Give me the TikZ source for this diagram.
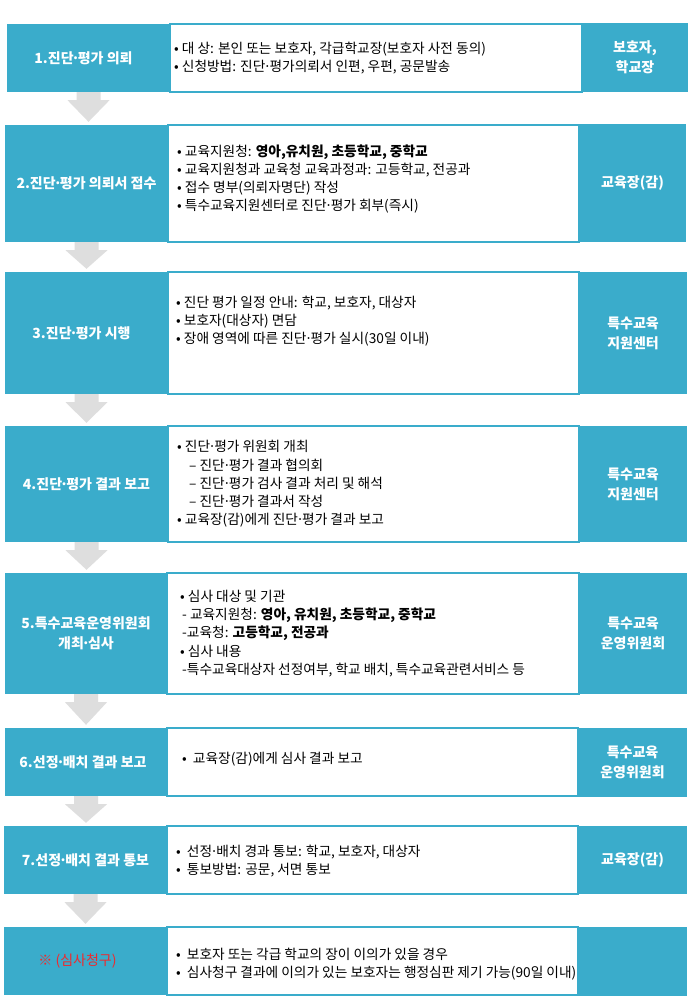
\documentclass[tikz,border=0pt]{standalone}
\usepackage{fontspec}
\setmainfont{Noto Sans CJK KR}
\usetikzlibrary{calc}
\definecolor{tb}{HTML}{3AACCB}
\definecolor{ag}{HTML}{DEDEDE}
\definecolor{rd}{HTML}{EE2A2E}
\tikzset{
 lbox/.style={fill=tb, inner sep=0pt, text=white, align=center, font=\fontsize{14}{20}\selectfont\bfseries},
 wbox/.style={fill=white, draw=tb, line width=1.2pt, inner sep=0pt},
 rbox/.style={fill=tb, inner sep=0pt, text=white, align=center, font=\fontsize{14}{20}\selectfont\bfseries},
 body/.style={anchor=west, inner sep=0pt, align=left, font=\fontsize{13.7}{18.3}\selectfont},
 barrow/.style={fill=ag},
}
\newcommand\blockarrow[2]{%
 \fill[barrow] ($(#1.south)+(-12pt,0)$) -- ($(#1.south)+(-12pt,-8pt)$) -- ($(#1.south)+(-21pt,-8pt)$)
  -- ($(#1.south |- #2.north)+(0,3pt)$) -- ($(#1.south)+(21pt,-8pt)$) -- ($(#1.south)+(12pt,-8pt)$)
  -- ($(#1.south)+(12pt,0)$) -- cycle;}
\newcommand\bul{\textbullet\ }
\newcommand\md{\makebox[0.3em][c]{·}}
\begin{document}
\begin{tikzpicture}[x=1pt,y=-1pt]
\useasboundingbox[fill=white] (0,0) rectangle (690,1000);
% row 1
\node[wbox, minimum width=412pt, minimum height=68pt] (W1) at (376,58) {};
\node[lbox, minimum width=163pt, minimum height=68pt] (L1) at (88.5,58) {\hspace*{-10pt}1.진단\md 평가 의뢰};
\node[rbox, minimum width=106pt, minimum height=69pt] (R1) at (635,57.5) {보호자,\\학교장};
\node[body] (T1) at (174,58) {\bul 대 상: 본인 또는 보호자, 각급학교장(보호자 사전 동의)\\\bul 신청방법: 진단\md 평가의뢰서 인편, 우편, 공문발송};
% row 2
\node[wbox, minimum width=411pt, minimum height=117pt] (W2) at (373.5,183.5) {};
\node[lbox, minimum width=163pt, minimum height=117pt] (L2) at (86.5,183.5) {2.진단\md 평가 의뢰서 접수};
\node[rbox, minimum width=107pt, minimum height=118pt] (R2) at (632.5,183) {교육장(감)};
\node[body] (T2) at (177,179) {\bul 교육지원청: \textbf{영아,유치원, 초등학교, 중학교}\\\bul 교육지원청과 교육청 교육과정과: 고등학교, 전공과\\\bul 접수 명부(의뢰자명단) 작성\\\bul 특수교육지원센터로 진단\md 평가 회부(즉시)};
% row 3
\node[wbox, minimum width=411pt, minimum height=122pt] (W3) at (373.5,333) {};
\node[lbox, minimum width=163pt, minimum height=122pt] (L3) at (86.5,333) {\hspace*{-10pt}3.진단\md 평가 시행};
\node[rbox, minimum width=108pt, minimum height=122pt] (R3) at (633,333) {특수교육\\지원센터};
\node[body] (T3) at (176,321) {\bul 진단 평가 일정 안내: 학교, 보호자, 대상자\\\bul 보호자(대상자) 면담\\\bul 장애 영역에 따른 진단\md 평가 실시(30일 이내)};
% row 4
\node[wbox, minimum width=411pt, minimum height=116pt] (W4) at (373.5,484) {};
\node[lbox, minimum width=163pt, minimum height=116pt] (L4) at (86.5,484) {4.진단\md 평가 결과 보고};
\node[rbox, minimum width=108pt, minimum height=116pt] (R4) at (633,484) {특수교육\\지원센터};
\node[body] (T4) at (177,484) {\bul 진단\md 평가 위원회 개최\\\hspace*{12pt}– 진단\md 평가 결과 협의회\\\hspace*{12pt}– 진단\md 평가 검사 결과 처리 및 해석\\\hspace*{12pt}– 진단\md 평가 결과서 작성\\\bul 교육장(감)에게 진단\md 평가 결과 보고};
% row 5
\node[wbox, minimum width=412pt, minimum height=121pt] (W5) at (373,633.5) {};
\node[lbox, minimum width=162pt, minimum height=121pt] (L5) at (86,633.5) {5.특수교육운영위원회\\개최\md 심사};
\node[rbox, minimum width=108pt, minimum height=121pt] (R5) at (633,633.5) {특수교육\\운영위원회};
\node[body] (T5) at (180,633.5) {\bul 심사 대상 및 기관\\\hspace*{2pt}- 교육지원청: \textbf{영아, 유치원, 초등학교, 중학교}\\\hspace*{2pt}-교육청: \textbf{고등학교, 전공과}\\\bul 심사 내용\\\hspace*{2pt}-특수교육대상자 선정여부, 학교 배치, 특수교육관련서비스 등};
% row 6
\node[wbox, minimum width=411pt, minimum height=68pt] (W6) at (372.5,762) {};
\node[lbox, minimum width=162pt, minimum height=68pt] (L6) at (86,762) {\hspace*{-6pt}6.선정\md 배치 결과 보고};
\node[rbox, minimum width=109pt, minimum height=69pt] (R6) at (632.5,762.5) {특수교육\\운영위원회};
\node[body] (T6) at (182,759) {\bul\ 교육장(감)에게 심사 결과 보고};
% row 7
\node[wbox, minimum width=411pt, minimum height=68pt] (W7) at (372.5,860) {};
\node[lbox, minimum width=163pt, minimum height=68pt] (L7) at (85.5,860) {7.선정\md 배치 결과 통보};
\node[rbox, minimum width=109pt, minimum height=68pt] (R7) at (632.5,860) {교육장(감)};
\node[body] (T7) at (176,861) {\bul\ 선정\md 배치 경과 통보: 학교, 보호자, 대상자\\\bul\ 통보방법: 공문, 서면 통보};
% row 8
\node[wbox, minimum width=411pt, minimum height=68pt] (W8) at (372.5,961) {};
\node[lbox, minimum width=163pt, minimum height=68pt, text=rd, font=\fontsize{14}{20}\selectfont] (L8) at (85.5,961) {\hspace*{-16pt}※ (심사청구)};
\node[rbox, minimum width=109pt, minimum height=69pt] (R8) at (632.5,961.5) {};
\node[body] (T8) at (176,964) {\bul\ 보호자 또는 각급 학교의 장이 이의가 있을 경우\\\bul\ 심사청구 결과에 이의가 있는 보호자는 행정심판 제기 가능(90일 이내)};
% arrows
\blockarrow{L1}{L2}
\blockarrow{L2}{L3}
\blockarrow{L3}{L4}
\blockarrow{L4}{L5}
\blockarrow{L5}{L6}
\blockarrow{L6}{L7}
\blockarrow{L7}{L8}
\end{tikzpicture}
\end{document}
